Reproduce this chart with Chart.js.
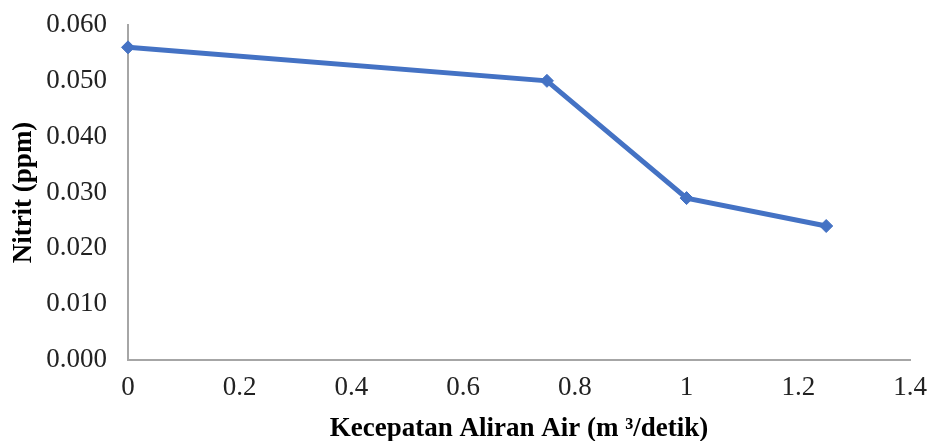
<!DOCTYPE html>
<html>
<head>
<meta charset="utf-8">
<script src="https://cdn.jsdelivr.net/npm/chart.js@4/dist/chart.umd.min.js"></script>
<style>
  html, body { margin: 0; padding: 0; background: #fff; }
</style>
</head>
<body>
<canvas id="myChart" width="931" height="441"></canvas>
<script>
// Data
const kecepatan = [0, 0.75, 1, 1.25];
const nitrit = [0.056, 0.050, 0.029, 0.024];
const xTitle = "Kecepatan Aliran Air (m \u00B3/detik)";
const yTitle = "Nitrit (ppm)";

const points = kecepatan.map((x, i) => ({ x: x, y: nitrit[i] }));

const serif = "'Liberation Serif', 'Times New Roman', serif";
const axisColor = "#a6a6a6";
const textColor = "#222";

const ctx = document.getElementById("myChart").getContext("2d");
const myChart = new Chart(ctx, {
  type: "line",
  data: {
    datasets: [
      {
        label: yTitle,
        data: points,
        borderColor: "#4472c4",
        backgroundColor: "#4472c4",
        borderWidth: 5,
        pointStyle: "rectRot",
        pointRadius: 6.5,
        pointBorderWidth: 1,
        fill: false,
        tension: 0,
        clip: false,
      },
    ],
  },
  options: {
    responsive: false,
    animation: false,
    layout: { padding: { top: 25, right: 21, bottom: 0, left: 0 } },
    plugins: {
      legend: { display: false },
      tooltip: { enabled: false },
    },
    scales: {
      x: {
        type: "linear",
        min: 0,
        max: 1.4,
        grid: { display: false, drawTicks: false },
        border: { display: true, color: axisColor, width: 2 },
        ticks: {
          stepSize: 0.2,
          padding: 12,
          color: textColor,
          font: { family: serif, size: 27 },
          maxRotation: 0,
          callback: (v) => String(Number(v.toFixed(1))),
        },
        title: {
          display: true,
          text: xTitle,
          color: "#000",
          font: { family: serif, size: 27, weight: "bold" },
          padding: { top: 0, bottom: -4 },
        },
        afterFit: (scale) => {
          scale.height = 81;
          scale.paddingLeft = 0;
          scale.paddingRight = 0;
        },
      },
      y: {
        min: 0,
        max: 0.06,
        grid: { display: false, drawTicks: false },
        border: { display: true, color: axisColor, width: 2 },
        ticks: {
          stepSize: 0.01,
          padding: 21,
          color: textColor,
          font: { family: serif, size: 27 },
          callback: (v) => v.toFixed(3),
        },
        title: {
          display: true,
          text: yTitle,
          color: "#000",
          font: { family: serif, size: 27, weight: "bold" },
          padding: { top: 8, bottom: 0 },
        },
        afterFit: (scale) => {
          scale.width = 128;
          scale.paddingTop = 0;
          scale.paddingBottom = 0;
        },
      },
    },
  },
});
</script>
</body>
</html>
